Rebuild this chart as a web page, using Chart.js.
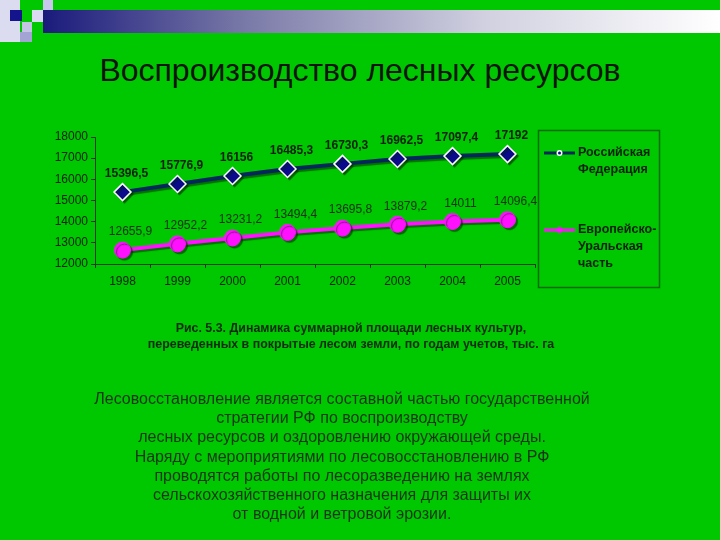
<!DOCTYPE html>
<html>
<head>
<meta charset="utf-8">
<script src="https://cdn.jsdelivr.net/npm/chart.js@4/dist/chart.umd.min.js"></script>
<style>
html,body{margin:0;padding:0;}
body{width:720px;height:540px;background:#00c800;position:relative;overflow:hidden;font-family:"Liberation Sans",Arial,sans-serif;}
.sq{position:absolute;}
#bar{position:absolute;left:43px;top:10px;width:677px;height:23px;background:linear-gradient(to right,#1a1a7c 0%,#7a7aa8 30%,#d0d0e0 65%,#ffffff 100%);}
#title{position:absolute;left:0;width:720px;top:52px;text-align:center;font-size:32px;color:#0a140a;}
#wrap{position:absolute;left:0;top:0;width:720px;height:540px;}
#caption{position:absolute;left:0;width:702px;top:320px;text-align:center;font-size:12.4px;font-weight:bold;color:#0c2a0c;line-height:16px;}
#text{position:absolute;left:0;width:684px;top:389px;text-align:center;font-size:16px;color:#143414;line-height:19.2px;}
</style>
</head>
<body>
<div class="sq" style="left:0;top:0;width:20px;height:42px;background:#dcdcf0"></div>
<div class="sq" style="left:43px;top:0;width:10px;height:10px;background:#c8c8ec"></div>
<div id="bar"></div>
<div class="sq" style="left:10px;top:10px;width:12px;height:11px;background:#14148c"></div>
<div class="sq" style="left:32px;top:10px;width:11px;height:12px;background:#dadaf2"></div>
<div class="sq" style="left:22px;top:22px;width:10px;height:10px;background:#c4c4e4"></div>
<div class="sq" style="left:20px;top:32px;width:12px;height:10px;background:#a4a4d4"></div>
<div id="title">Воспроизводство лесных ресурсов</div>
<div id="wrap"><canvas id="chart" width="720" height="540"></canvas></div>
<div id="caption">Рис. 5.3. Динамика суммарной площади лесных культур,<br>переведенных в покрытые лесом земли, по годам учетов, тыс. га</div>
<div id="text">Лесовосстановление является составной частью государственной<br>стратегии РФ по воспроизводству<br>лесных ресурсов и оздоровлению окружающей среды.<br>Наряду с мероприятиями по лесовосстановлению в РФ<br>проводятся работы по лесоразведению на землях<br>сельскохозяйственного назначения для защиты их<br>от водной и ветровой эрозии.</div>
<script>
const years = ["1998","1999","2000","2001","2002","2003","2004","2005"];
const rfValues = [15396.5, 15776.9, 16156, 16485.3, 16730.3, 16962.5, 17097.4, 17192];
const euValues = [12655.9, 12952.2, 13231.2, 13494.4, 13695.8, 13879.2, 14011, 14096.4];
const seriesNames = [["Российская","Федерация"],["Европейско-","Уральская","часть"]];

const fmt = v => String(v).replace(".", ",");

// shadow under lines and markers
const shadowPlugin = {
  id: "shadow",
  beforeDatasetDraw(chart){
    const c = chart.ctx;
    c.save();
    c.shadowColor = "rgba(0,40,0,0.55)";
    c.shadowOffsetX = 2;
    c.shadowOffsetY = 2;
    c.shadowBlur = 1;
  },
  afterDatasetDraw(chart){
    chart.ctx.restore();
  }
};

// value labels above the points
const labelPlugin = {
  id: "labels",
  afterDatasetsDraw(chart){
    const c = chart.ctx;
    c.save();
    c.textAlign = "center";
    c.textBaseline = "middle";
    chart.data.datasets.forEach((ds, i) => {
      const meta = chart.getDatasetMeta(i);
      c.font = (i === 0 ? "bold " : "") + "12px 'Liberation Sans', Arial, sans-serif";
      c.fillStyle = i === 0 ? "#0a200a" : "#10300f";
      meta.data.forEach((pt, j) => {
        const dx = i === 0 ? 4 : 8;
        c.fillText(fmt(ds.data[j]), pt.x + dx, pt.y - 18);
      });
    });
    c.restore();
  }
};

// boxed legend on the right
const legendPlugin = {
  id: "boxLegend",
  afterDraw(chart){
    const c = chart.ctx;
    c.save();
    c.strokeStyle = "#0a6a0a";
    c.lineWidth = 1.5;
    c.strokeRect(538.5, 130.5, 121, 157);
    const rows = [153, 230];
    c.font = "bold 12.5px 'Liberation Sans', Arial, sans-serif";
    c.textBaseline = "middle";
    c.textAlign = "left";
    chart.data.datasets.forEach((ds, i) => {
      const y = rows[i];
      c.strokeStyle = ds.borderColor;
      c.lineWidth = 3;
      c.beginPath();
      c.moveTo(544, y);
      c.lineTo(575, y);
      c.stroke();
      if (i === 0) {
        c.fillStyle = "#ffffff";
        c.beginPath(); c.arc(559.5, y, 3, 0, Math.PI*2); c.fill();
        c.fillStyle = ds.backgroundColor;
        c.beginPath(); c.arc(559.5, y, 1.5, 0, Math.PI*2); c.fill();
      } else {
        c.fillStyle = ds.backgroundColor;
        c.beginPath(); c.arc(559.5, y, 3, 0, Math.PI*2); c.fill();
      }
      c.fillStyle = "#0a200a";
      seriesNames[i].forEach((t, k) => c.fillText(t, 578, y + k * 17));
    });
    c.restore();
  }
};

new Chart(document.getElementById("chart"), {
  type: "line",
  data: {
    labels: years,
    datasets: [
      {
        label: seriesNames[0].join(" "),
        data: rfValues,
        borderColor: "#05285a",
        backgroundColor: "#0a0a8a",
        borderWidth: 4,
        pointStyle: "rectRot",
        pointRadius: 8.5,
        pointBorderColor: "#ffffff",
        pointBorderWidth: 1.5,
        pointBackgroundColor: "#0a0a8a",
        tension: 0
      },
      {
        label: seriesNames[1].join(" "),
        data: euValues,
        borderColor: "#ff10ff",
        backgroundColor: "#ff10ff",
        borderWidth: 4,
        pointStyle: "circle",
        pointRadius: 8,
        pointBorderColor: "#ff10ff",
        pointBorderWidth: 1,
        pointBackgroundColor: "#ff10ff",
        tension: 0
      }
    ]
  },
  options: {
    responsive: false,
    animation: false,
    devicePixelRatio: 1,
    layout: { padding: { left: 35, right: 185, top: 137, bottom: 246 } },
    plugins: { legend: { display: false }, tooltip: { enabled: false } },
    scales: {
      x: {
        offset: true,
        afterFit: s => { s.height = 30; },
        border: { display: true, color: "#1a3a1a", width: 1 },
        grid: { display: true, drawOnChartArea: false, offset: true, color: "#1a3a1a", tickLength: 4 },
        ticks: { color: "#0a200a", font: { family: "'Liberation Sans', Arial, sans-serif", size: 12 }, padding: 6 }
      },
      y: {
        min: 12000,
        max: 18000,
        afterFit: s => { s.width = 60; },
        border: { display: true, color: "#1a3a1a", width: 1 },
        grid: { display: true, drawOnChartArea: false, color: "#1a3a1a", tickLength: 4 },
        ticks: { stepSize: 1000, callback: v => String(v), color: "#0a200a", font: { family: "'Liberation Sans', Arial, sans-serif", size: 12 }, padding: 3 }
      }
    }
  },
  plugins: [shadowPlugin, labelPlugin, legendPlugin]
});
</script>
</body>
</html>
